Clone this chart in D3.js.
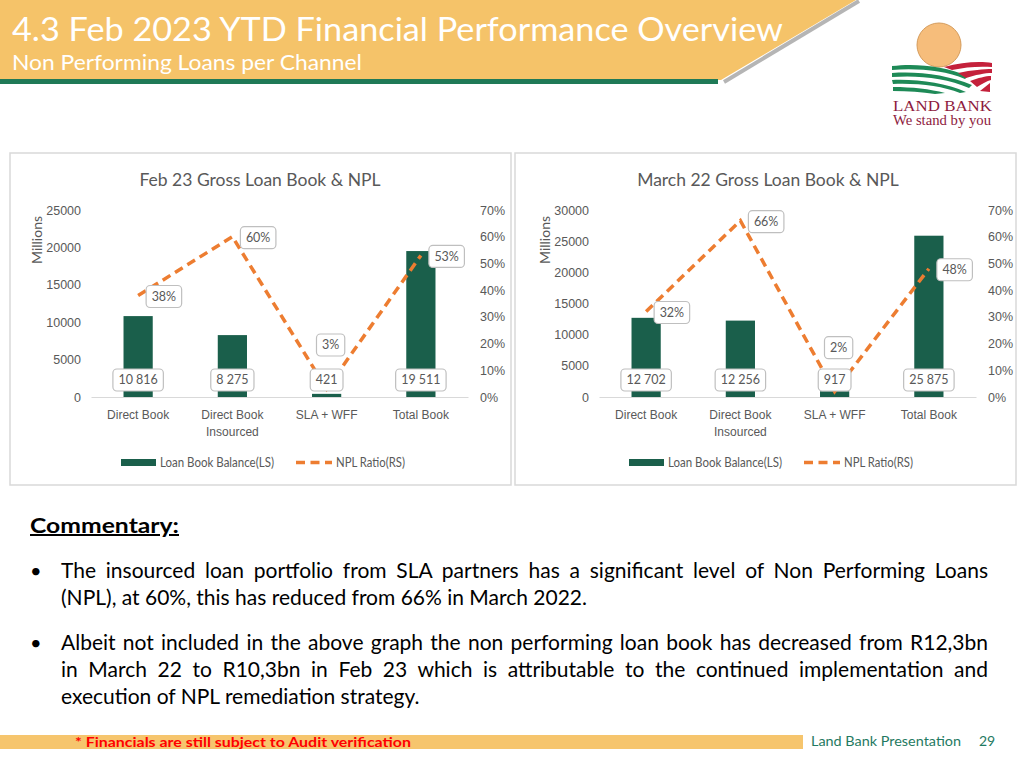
<!DOCTYPE html>
<html><head><meta charset="utf-8">
<script src="https://cdn.jsdelivr.net/npm/d3@7"></script>
<style>
body{margin:0;width:1024px;height:768px;overflow:hidden;background:#fff;}
svg{display:block;font-family:Lato, "Open Sans", sans-serif;}
</style></head>
<body>
<svg id="svg" width="1024" height="768"></svg>
<script>
// ---------------- DATA ----------------
const categories = [["Direct Book"], ["Direct Book", "Insourced"], ["SLA + WFF"], ["Total Book"]];
const feb23Loans = [10816, 8275, 421, 19511];
const feb23Npl   = [0.38, 0.60, 0.03, 0.53];
const mar22Loans = [12702, 12256, 917, 25875];
const mar22Npl   = [0.32, 0.66, 0.02, 0.48];
const feb23LoanTicks = [0, 5000, 10000, 15000, 20000, 25000];
const mar22LoanTicks = [0, 5000, 10000, 15000, 20000, 25000, 30000];
const pctTicks = [0, 0.1, 0.2, 0.3, 0.4, 0.5, 0.6, 0.7];
const chartTitles = ["Feb 23 Gross Loan Book & NPL", "March 22 Gross Loan Book & NPL"];
const legendLabels = ["Loan Book Balance(LS)", "NPL Ratio(RS)"];
const titleText = "4.3 Feb 2023 YTD Financial Performance Overview";
const subtitleText = "Non Performing Loans per Channel";
const commentaryParas = [
  ["The insourced loan portfolio from SLA partners has a significant level of Non Performing Loans",
   "(NPL), at 60%, this has reduced from 66% in March 2022."],
  ["Albeit not included in the above graph the non performing loan book has decreased from R12,3bn",
   "in March 22 to R10,3bn in Feb 23 which is attributable to the continued implementation and",
   "execution of NPL remediation strategy."]
];

// ---------------- STYLE ----------------
const C = { bar: "#1a5f4b", line: "#ED7D31", text: "#595959", axis: "#d9d9d9", yellow: "#f5c369", green: "#1f7a57" };
const svg = d3.select("#svg");

// ---------------- HEADER ----------------
svg.append("line").attr("x1", 859).attr("y1", 1).attr("x2", 724).attr("y2", 82)
  .attr("stroke", "#b5b5b5").attr("stroke-width", 4);
svg.append("path").attr("d", "M0,0 L856,0 L721,80 L0,80 Z").attr("fill", C.yellow);
svg.append("rect").attr("x", 0).attr("y", 79).attr("width", 718).attr("height", 5).attr("fill", C.green);
svg.append("text").attr("x", 12).attr("y", 41).attr("fill", "#fff").attr("font-size", 33)
  .attr("textLength", 771).attr("lengthAdjust", "spacingAndGlyphs").text(titleText);
svg.append("text").attr("x", 12).attr("y", 70).attr("fill", "#fff").attr("font-size", 21)
  .attr("textLength", 350).attr("lengthAdjust", "spacingAndGlyphs").text(subtitleText);

// ---------------- LOGO ----------------
const logo = svg.append("g");
logo.append("circle").attr("cx", 939).attr("cy", 45).attr("r", 22).attr("fill", "#f6bd7b").attr("stroke", "#d59c5c").attr("stroke-width", 1);
const greens = [
  "M892,66 C915,63 945,66 968,76 L965,79 C944,70 915,68 892,70 Z",
  "M892,73 C918,71 948,75 972,85 L969,88 C946,78 918,75 892,77 Z",
  "M892,80 C918,79 945,83 966,92 L960,93 C942,86 918,83 893,84 Z",
  "M893,87 C912,87 930,89 945,93 L935,94 C922,92 908,91 893,91 Z"];
const reds = [
  "M944,67 C962,62 980,61 992,63 L992,67 C980,66 965,67 952,70 Z",
  "M958,73 C972,70 984,69 992,69 L992,73 C985,73 975,75 966,78 Z",
  "M970,81 C978,78 986,76 991,76 L991,80 C987,81 982,84 977,87 Z",
  "M980,91 L990,83 L990,92 Z"];
greens.forEach(d => logo.append("path").attr("d", d).attr("fill", "#1e8a57"));
reds.forEach(d => logo.append("path").attr("d", d).attr("fill", "#c4213b"));
logo.append("text").attr("x", 893).attr("y", 111).attr("font-family", "Liberation Serif, DejaVu Serif, serif")
  .attr("font-size", 15.5).attr("fill", "#8e1b3e").attr("textLength", 99).attr("lengthAdjust", "spacingAndGlyphs").text("LAND BANK");
logo.append("text").attr("x", 893).attr("y", 125).attr("font-family", "Liberation Serif, DejaVu Serif, serif")
  .attr("font-size", 14).attr("fill", "#8e1b3e").attr("textLength", 98).attr("lengthAdjust", "spacingAndGlyphs").text("We stand by you");

// ---------------- PANELS ----------------
[[10, 153, 501, 332], [515, 153, 501, 332]].forEach(([x, y, w, h]) =>
  svg.append("rect").attr("x", x).attr("y", y).attr("width", w).attr("height", h)
    .attr("fill", "#fff").attr("stroke", "#d9d9d9").attr("stroke-width", 1.5));

const numFmt = d3.formatLocale({ decimal: ".", thousands: "\u00a0", grouping: [3], currency: ["", ""] }).format(",d");
const pctFmt = d3.format(".0%");

function boxLabel(g, cx, cy, txt) {
  const t = g.append("text").attr("x", cx).attr("y", cy).attr("dy", "0.35em").attr("text-anchor", "middle")
    .attr("font-size", 12.5).attr("fill", C.text).text(txt);
  const w = t.node().getComputedTextLength() + 11;
  g.insert("rect", () => t.node()).attr("x", cx - w / 2).attr("y", cy - 11).attr("width", w).attr("height", 22)
    .attr("rx", 4).attr("fill", "#fff").attr("stroke", "#bfbfbf").attr("stroke-width", 1.2);
}

function fitText(sel, target) {
  const len = sel.node().getComputedTextLength();
  if (len > target) sel.attr("textLength", target).attr("lengthAdjust", "spacingAndGlyphs");
  return sel;
}

function drawChart(dx, title, loans, npl, ticks) {
  const g = svg.append("g").attr("transform", `translate(${dx},0)`);
  const x = d3.scaleBand().domain(d3.range(loans.length)).range([81, 458]).paddingInner(0.69).paddingOuter(0.345);
  const yL = d3.scaleLinear().domain([0, d3.max(ticks)]).range([397, 210]);
  const yR = d3.scaleLinear().domain([0, d3.max(pctTicks)]).range([397, 210]);
  const cx = i => x(i) + x.bandwidth() / 2;

  g.append("text").attr("x", 250).attr("y", 186).attr("text-anchor", "middle").attr("font-size", 17.5)
    .attr("fill", C.text).text(title);
  g.append("text").attr("transform", "translate(32,240) rotate(-90)").attr("text-anchor", "middle")
    .attr("font-size", 14).attr("fill", C.text).text("Millions");

  const aL = g.append("g").attr("transform", "translate(81,0)")
    .call(d3.axisLeft(yL).tickValues(ticks).tickSize(0).tickPadding(10).tickFormat(d3.format("d")));
  const aR = g.append("g").attr("transform", "translate(458,0)")
    .call(d3.axisRight(yR).tickValues(pctTicks).tickSize(0).tickPadding(12).tickFormat(pctFmt));
  [aL, aR].forEach(a => { a.select(".domain").remove(); a.selectAll("text").attr("font-size", 12.5).attr("fill", C.text).attr("font-family", null); });

  // bars
  g.selectAll("rect.bar").data(loans).join("rect").attr("class", "bar")
    .attr("x", (d, i) => x(i)).attr("width", x.bandwidth())
    .attr("y", d => yL(d)).attr("height", d => yL(0) - yL(d)).attr("fill", C.bar);

  const aB = g.append("g").attr("transform", "translate(0,397)")
    .call(d3.axisBottom(x).tickSize(0).tickSizeOuter(0).tickFormat(() => ""));
  aB.select(".domain").attr("stroke", C.axis).attr("stroke-width", 1.2);
  aB.selectAll(".tick text").each(function (d) {
    const t = d3.select(this).attr("y", 22).attr("dy", 0).attr("font-size", 12).attr("fill", C.text).attr("font-family", null);
    categories[d].forEach((s, k) => t.append("tspan").attr("x", 0).attr("y", 22 + k * 17).text(s));
  });

  // NPL line
  g.append("path").datum(npl).attr("fill", "none").attr("stroke", C.line).attr("stroke-width", 3.5)
    .attr("stroke-dasharray", "9,5.5")
    .attr("d", d3.line().x((d, i) => cx(i)).y(d => yR(d)));

  // labels
  loans.forEach((v, i) => boxLabel(g, cx(i), 380, numFmt(v)));
  npl.forEach((v, i) => {
    if (v < 0.1) boxLabel(g, cx(i) + 4, yR(v) - 44, pctFmt(v));
    else {
      const t = pctFmt(v);
      const tmp = g.append("text").attr("font-size", 12.5).text(t);
      const w = tmp.node().getComputedTextLength() + 11; tmp.remove();
      boxLabel(g, cx(i) + 8 + w / 2, yR(v) + 1, t);
    }
  });

  // legend
  const lg = g.append("g");
  lg.append("rect").attr("x", 111).attr("y", 459).attr("width", 35).attr("height", 7).attr("fill", C.bar);
  fitText(lg.append("text").attr("x", 150).attr("y", 466.5).attr("font-size", 12.5).attr("fill", C.text).text(legendLabels[0]), 114);
  lg.append("line").attr("x1", 286).attr("x2", 322).attr("y1", 462.5).attr("y2", 462.5)
    .attr("stroke", C.line).attr("stroke-width", 3.5).attr("stroke-dasharray", "9,5.5");
  fitText(lg.append("text").attr("x", 326).attr("y", 466.5).attr("font-size", 12.5).attr("fill", C.text).text(legendLabels[1]), 69);
}
drawChart(10, chartTitles[0], feb23Loans, feb23Npl, feb23LoanTicks);
drawChart(518, chartTitles[1], mar22Loans, mar22Npl, mar22LoanTicks);

// ---------------- COMMENTARY ----------------
svg.append("text").attr("x", 30).attr("y", 533).attr("font-size", 20).attr("font-weight", "bold")
  .attr("fill", "#000").attr("text-decoration", "underline").attr("textLength", 149)
  .attr("lengthAdjust", "spacingAndGlyphs").text("Commentary:");
let yb = 578;
commentaryParas.forEach(par => {
  svg.append("text").attr("x", 30).attr("y", yb).attr("font-size", 20).attr("fill", "#000").text("\u2022");
  par.forEach((line, k) => {
    const t = svg.append("text").attr("x", 61).attr("y", yb).attr("font-size", 21).attr("fill", "#000").text(line);
    if (k < par.length - 1) {
      const len = t.node().getComputedTextLength();
      const spaces = (line.match(/ /g) || []).length;
      t.attr("word-spacing", (927 - len) / spaces);
    }
    yb += 27.3;
  });
  yb += 17;
});

// ---------------- FOOTER ----------------
svg.append("rect").attr("x", 0).attr("y", 735).attr("width", 803).attr("height", 14).attr("fill", "#f6c56d");
svg.append("text").attr("x", 75).attr("y", 747).attr("font-size", 14).attr("font-weight", "bold").attr("fill", "#ff0000")
  .attr("textLength", 336).attr("lengthAdjust", "spacingAndGlyphs").text("* Financials are still subject to Audit verification");
svg.append("text").attr("x", 811).attr("y", 746).attr("font-size", 14).attr("fill", "#1f7a62")
  .attr("textLength", 150).attr("lengthAdjust", "spacingAndGlyphs").text("Land Bank Presentation");
svg.append("text").attr("x", 979).attr("y", 746).attr("font-size", 14).attr("fill", "#1f7a62").text("29");
</script>
</body></html>
